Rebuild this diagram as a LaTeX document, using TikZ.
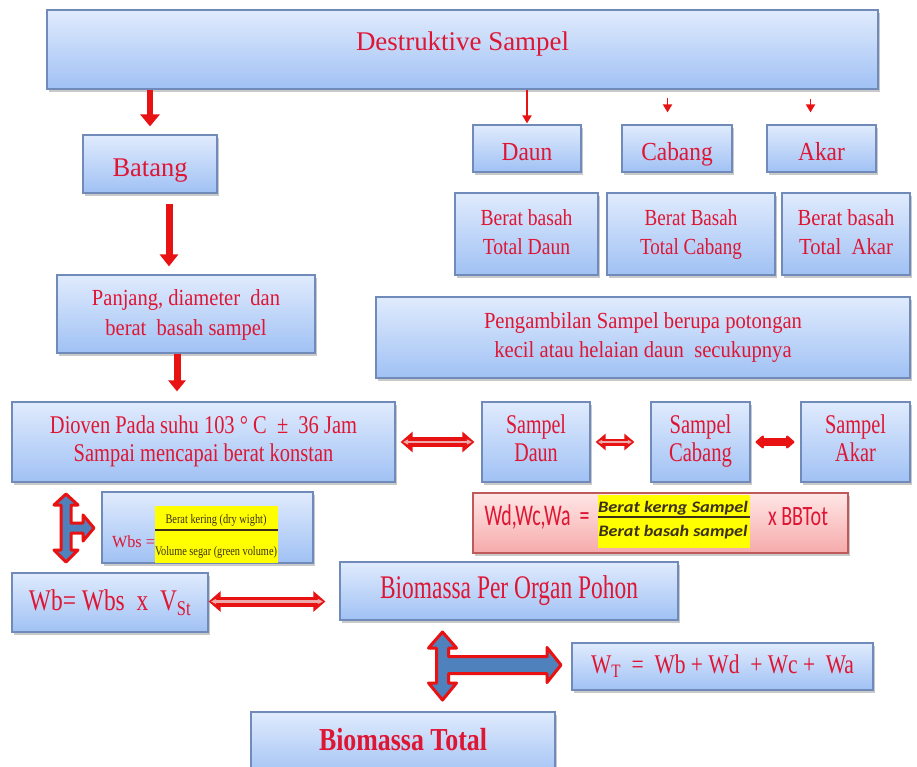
\documentclass[tikz,border=0pt]{standalone}
\usepackage{fontspec}
\setmainfont{Liberation Serif}
\newfontfamily\carl{Carlito}
\usepackage{graphicx}
\usetikzlibrary{shadows,arrows.meta,calc}
\definecolor{txtred}{RGB}{222,22,52}
\definecolor{boxtop}{RGB}{224,235,253}
\definecolor{boxbot}{RGB}{160,193,244}
\definecolor{boxedge}{RGB}{112,138,186}
\definecolor{pinktop}{RGB}{255,230,230}
\definecolor{pinkbot}{RGB}{246,170,170}
\definecolor{pinkedge}{RGB}{190,90,90}
\definecolor{arrred}{RGB}{232,18,18}
\definecolor{arrin}{RGB}{238,170,170}
\definecolor{tblue}{RGB}{79,129,189}
\definecolor{hlyellow}{RGB}{255,255,0}
\definecolor{fracdark}{RGB}{60,48,24}
\newcommand{\fitw}[2]{\resizebox{#1}{\height}{#2}}
\newcommand{\sx}[2]{\scalebox{#1}[1]{#2}}
\newcommand{\two}[2]{\begin{tabular}{@{}c@{}}#1\\#2\end{tabular}}
\newcommand{\lowr}[2]{\raisebox{#1}[0pt][0pt]{#2}}
\newcommand{\bnode}[7][]{\node[box,minimum width={(#5-#3)*1pt},minimum height={(#6-#4)*1pt},#1] (#2) at ({(#3+#5)/2},{(#4+#6)/2}) {#7};}
\newcommand{\dblarr}[7]{%
  \draw[draw=arrred, line width=#3, {Triangle[length=#4,width=#5]}-{Triangle[length=#4,width=#5]}] #1 -- #2;
  \draw[draw=arrin, line width=#6, shorten <=2.5pt, shorten >=2.5pt, {Triangle[length=#7,width=#7]}-{Triangle[length=#7,width=#7]}] #1 -- #2;}
\tikzset{
  box/.style={draw=boxedge, line width=1.2pt, top color=boxtop, bottom color=boxbot,
    drop shadow={shadow xshift=2pt, shadow yshift=-2.5pt, opacity=0.35, fill=black!60},
    text=txtred, inner sep=0pt},
  pinkbox/.style={draw=pinkedge, top color=pinktop, bottom color=pinkbot},
  thinarr/.style={draw=arrred, line width=1.8pt, -{Triangle[length=8pt,width=9pt]}},
  thickarr/.style={draw=arrred, line width=6pt, -{Triangle[length=12pt,width=19pt]}},
  tarrow/.style={draw=arrred, fill=tblue, line width=3pt, line join=round},
  plain/.style={inner sep=0pt, anchor=base}
}
\begin{document}
\begin{tikzpicture}[x=1pt,y=-1pt]
\fill[white] (0,0) rectangle (917,766);
\useasboundingbox (0,0) rectangle (917,766);

\bnode[font=\fontsize{27}{30}\selectfont]{dest}{47}{10}{878}{89}{\lowr{-0.5pt}{\fitw{213pt}{Destruktive Sampel}}}
\bnode[font=\fontsize{27}{30}\selectfont]{batang}{83}{135}{217}{193}{\lowr{-12pt}{\fitw{75pt}{Batang}}}
\bnode[font=\fontsize{26}{30}\selectfont]{daun}{473}{125}{581}{172}{\lowr{-12pt}{\sx{0.9}{Daun}}}
\bnode[font=\fontsize{26}{30}\selectfont]{cabang}{622}{125}{732}{172}{\lowr{-12pt}{\sx{0.9}{Cabang}}}
\bnode[font=\fontsize{26}{30}\selectfont]{akar}{767}{125}{876}{172}{\lowr{-12pt}{\sx{0.9}{Akar}}}

\bnode[font=\fontsize{23}{29}\selectfont]{bd}{455}{193}{598}{275}{\fitw{92pt}{\two{Berat basah}{Total Daun}}}
\bnode[font=\fontsize{23}{29}\selectfont]{bc}{607}{193}{775}{275}{\fitw{102pt}{\two{Berat Basah}{Total Cabang}}}
\bnode[font=\fontsize{23}{29}\selectfont]{ba}{782}{193}{910}{275}{\fitw{97pt}{\two{Berat basah}{Total\ \ Akar}}}

\bnode[font=\fontsize{23}{29}\selectfont]{peng}{376}{297}{910}{378}{\fitw{318pt}{\two{Pengambilan Sampel berupa potongan}{kecil atau helaian daun\ \ secukupnya}}}
\bnode[font=\fontsize{23}{30}\selectfont]{panjang}{57}{275}{315}{353}{\fitw{188pt}{\two{Panjang, diameter\ \ dan}{berat\ \ basah sampel}}}

\bnode[font=\fontsize{25.5}{28}\selectfont]{dioven}{12}{402}{395}{482}{\fitw{307pt}{\two{Dioven Pada suhu 103 ° C\ \ ±\ \ 36 Jam}{Sampai mencapai berat konstan}}}
\bnode[font=\fontsize{27}{28}\selectfont]{sd}{482}{402}{590}{482}{\fitw{60pt}{\two{Sampel}{Daun}}}
\bnode[font=\fontsize{27}{28}\selectfont]{sc}{651}{402}{750}{482}{\fitw{63pt}{\two{Sampel}{Cabang}}}
\bnode[font=\fontsize{27}{28}\selectfont]{sa}{801}{402}{910}{482}{\fitw{61pt}{\two{Sampel}{Akar}}}

\bnode{wbs}{102}{492}{313}{563}{}
\bnode[pinkbox]{pink}{473}{493}{848}{553}{}
\bnode[font=\fontsize{30}{32}\selectfont]{wb}{12}{573}{208}{632}{\fitw{162pt}{Wb= Wbs\ \ x\ \ V\textsubscript{St}}}
\bnode[font=\fontsize{33}{36}\selectfont]{bpo}{340}{562}{678}{620}{\fitw{258pt}{Biomassa Per Organ Pohon}}
\bnode[font=\fontsize{27}{30}\selectfont]{wt}{572}{643}{873}{690}{\fitw{263pt}{W\textsubscript{T}\ \ =\ \ Wb + Wd\ \ + Wc +\ \ Wa}}
\bnode[font=\bfseries\fontsize{32}{36}\selectfont]{bt}{251}{712}{555}{778}{\lowr{-5pt}{\fitw{168pt}{Biomassa Total}}}

% Wbs formula
\node[plain, text=txtred, font=\fontsize{17}{17}\selectfont] (wbslab) at (133.5,547) {\fitw{43pt}{Wbs =}};
\node[fill=hlyellow, inner sep=0pt, minimum width=123pt, minimum height=57pt] (wbsy) at (216.5,534.5) {};
\draw[fracdark, line width=1.6pt] (wbsy.west |- 0,530) -- (wbsy.east |- 0,530);
\node[plain, text=fracdark, font=\fontsize{13}{13}\selectfont] (wbsn) at (216,523) {\fitw{101pt}{Berat kering (dry wight)}};
\node[plain, text=fracdark, font=\fontsize{13}{13}\selectfont] (wbsd) at (216,555) {\fitw{122pt}{Volume segar (green volume)}};

% pink formula
\node[plain, text=txtred, font=\carl\fontsize{30}{30}\selectfont] (wdlab) at (537,525) {\fitw{105pt}{Wd,Wc,Wa\ \ =}};
\node[fill=hlyellow, inner sep=0pt, minimum width=152pt, minimum height=53pt] (pinky) at (674,521.5) {};
\draw[fracdark, line width=1.5pt] (pinky.west |- 0,517) -- (pinky.east |- 0,517);
\node[plain, text=fracdark, font=\carl\bfseries\itshape\fontsize{16}{16}\selectfont] (pinkn) at (673,512) {\fitw{150pt}{Berat kerng Sampel}};
\node[plain, text=fracdark, font=\carl\bfseries\itshape\fontsize{16}{16}\selectfont] (pinkd) at (673,536) {\fitw{149pt}{Berat basah sampel}};
\node[plain, text=txtred, font=\carl\fontsize{28}{28}\selectfont] (bbtot) at (798,525) {\fitw{60pt}{x BBTot}};

% vertical arrows
\draw[thickarr] (batang.north |- dest.south) -- ($(batang.north)+(0,-8)$);
\draw[thinarr] (daun.north |- dest.south) -- ($(daun.north)+(0,-1)$);
\draw[thinarr] ($(cabang.north |- dest.south)+(-9.5,8)$) -- ($(cabang.north)+(-9.5,-12)$);
\draw[thinarr] ($(akar.north |- dest.south)+(-11,9)$) -- ($(akar.north)+(-11,-12)$);
\draw[draw=arrred, line width=7pt, -{Triangle[length=12pt,width=18pt]}] ($(panjang.north |- batang.south)+(-17,10)$) -- ($(panjang.north)+(-17,-8)$);
\draw[draw=arrred, line width=7pt, -{Triangle[length=11pt,width=17pt]}] ($(panjang.south)+(-9,0)$) -- ($(dioven.north -| panjang.south)+(-9,-10)$);

% horizontal double arrows
\dblarr{($(dioven.east)+(5,0)$)}{($(sd.west)+(-7,0)$)}{10pt}{12pt}{20pt}{2.5pt}{5pt}
\dblarr{($(sd.east)+(5,0)$)}{($(sc.west)+(-16,0)$)}{7pt}{10pt}{16pt}{2pt}{4pt}
\draw[draw=arrred, line width=8pt, {Triangle[length=9pt,width=15pt,round]}-{Triangle[length=9pt,width=15pt,round]}] ($(sc.east)+(5,0)$) -- ($(sa.west)+(-6,0)$);
\dblarr{($(wb.east)+(0,-1)$)}{($(wb.east -| bpo.west)+(-14,-1)$)}{10pt}{12pt}{20pt}{2.5pt}{5pt}

% T-shaped block arrows
\coordinate (T1) at (66,528);
\draw[tarrow, shift={(T1)}] (0,-34) -- (12,-23) -- (5,-23) -- (5,-5) -- (17,-5) -- (17,-13) -- (28,0) -- (17,13) -- (17,5) -- (5,5) -- (5,22) -- (12,22) -- (0,34) -- (-12,22) -- (-5,22) -- (-5,-23) -- (-12,-23) -- cycle;
\coordinate (T2) at (442.5,665);
\draw[tarrow, shift={(T2)}] (0,-33) -- (14,-17) -- (6,-17) -- (6,-8.5) -- (104.5,-8.5) -- (104.5,-17.5) -- (118.5,0) -- (104.5,17.5) -- (104.5,8.5) -- (6,8.5) -- (6,18) -- (14,18) -- (0,35) -- (-14,18) -- (-6,18) -- (-6,-17) -- (-14,-17) -- cycle;
\end{tikzpicture}
\end{document}
